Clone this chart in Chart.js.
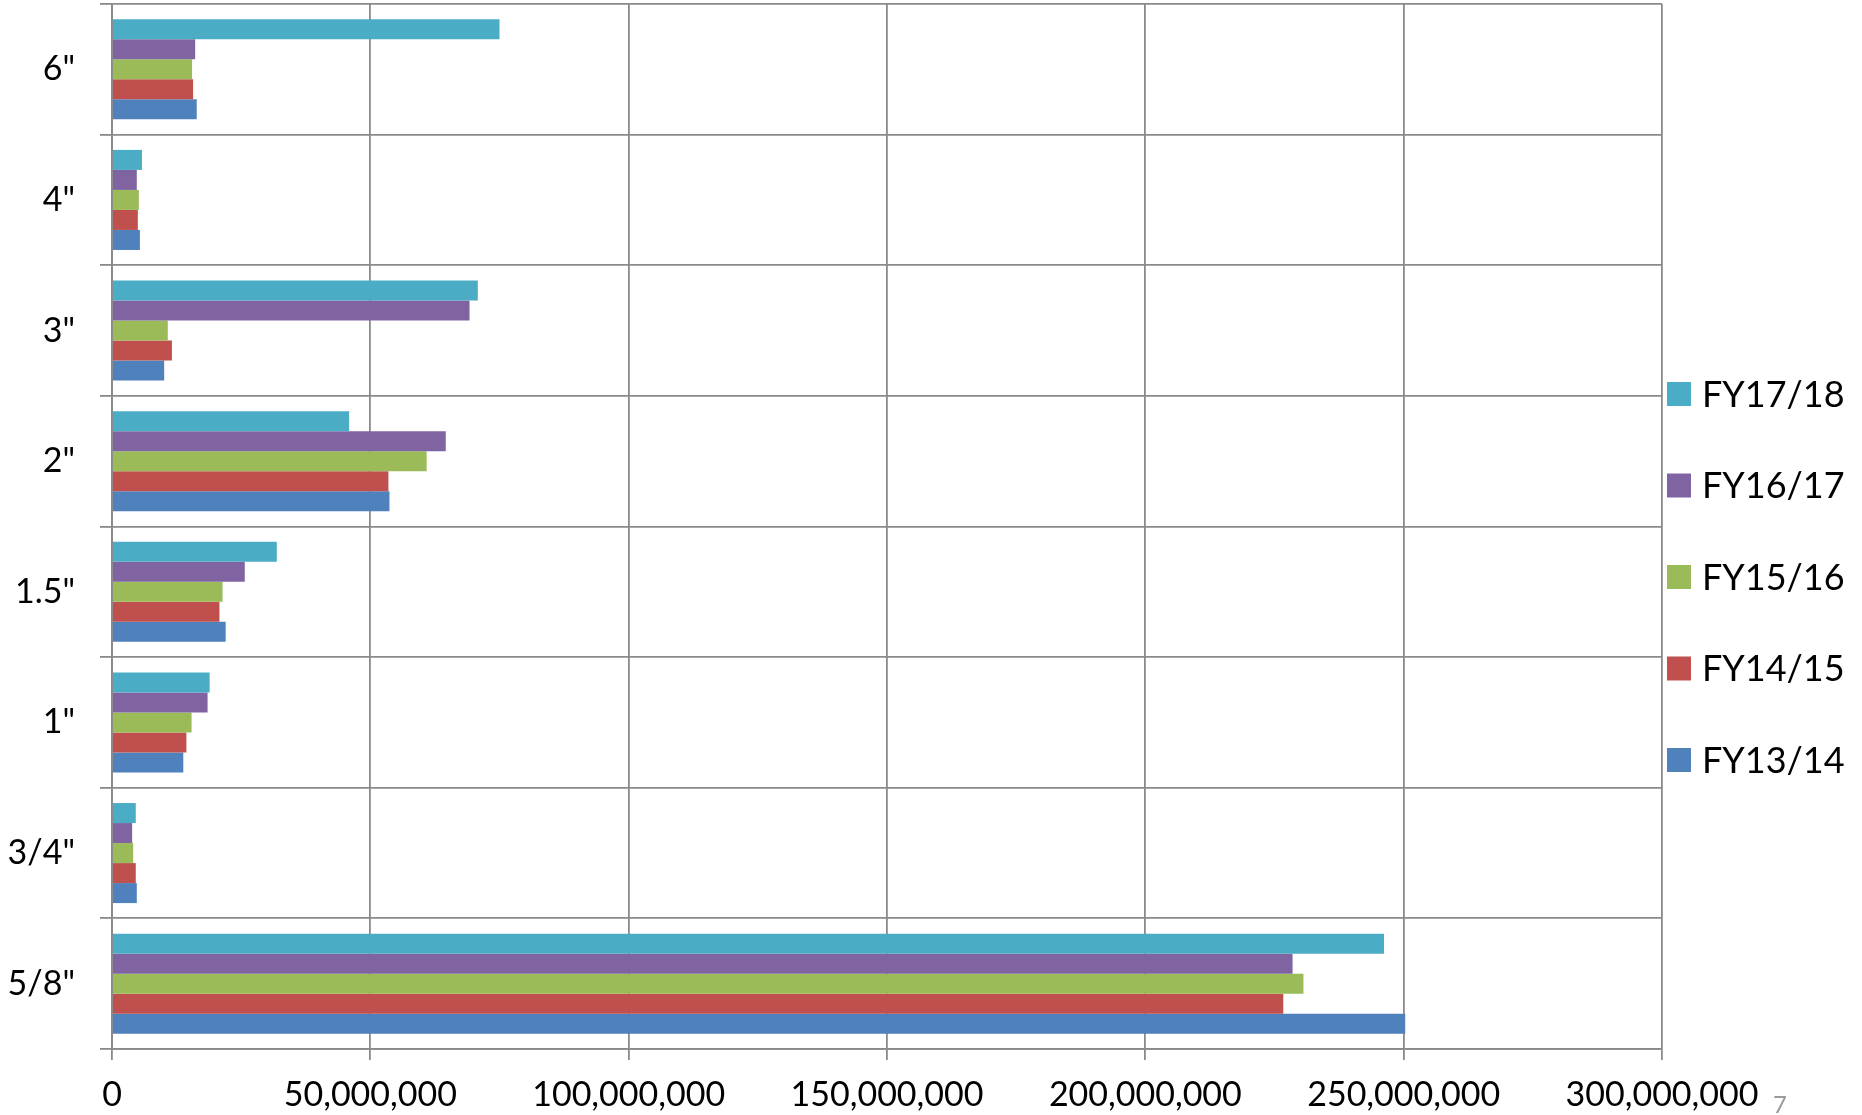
<!DOCTYPE html>
<html>
<head>
<meta charset="utf-8">
<style>
  html, body { margin: 0; padding: 0; background: #ffffff; }
  #wrap { width: 1862px; height: 1115px; }
</style>
<script src="https://cdn.jsdelivr.net/npm/chart.js@4.4.1/dist/chart.umd.min.js"></script>
</head>
<body>
<div id="wrap"><canvas id="meters" width="1862" height="1115"></canvas></div>
<script>
// meter sizes, top to bottom as in the picture
const sizes = ['6"', '4"', '3"', '2"', '1.5"', '1"', '3/4"', '5/8"'];

// values per fiscal year, same order as sizes
const fy1718 = [75000000, 5800000, 70800000, 45900000, 31900000, 18900000, 4600000, 246200000];
const fy1617 = [16100000, 4800000, 69200000, 64600000, 25700000, 18500000, 3900000, 228500000];
const fy1516 = [15500000, 5200000, 10800000, 60900000, 21400000, 15400000, 4100000, 230600000];
const fy1415 = [15700000, 5000000, 11600000, 53500000, 20800000, 14400000, 4600000, 226700000];
const fy1314 = [16400000, 5400000, 10100000, 53700000, 22000000, 13800000, 4800000, 250300000];

const xTicks = [0, 50000000, 100000000, 150000000, 200000000, 250000000, 300000000];

const gridGray = "#8a8a8a";
const axisFont = { family: "Lato", size: 34 };

// legend on the right, drawn by hand so it sits where Excel put it
const sideLegend = {
    id: "sideLegend",
    afterDraw: (chart) => {
        const ctx = chart.ctx;
        const { right } = chart.chartArea;
        ctx.save();
        ctx.font = "36px Lato";
        ctx.textBaseline = "middle";
        chart.data.datasets.forEach((ds, i) => {
            const y = 394 + i * 91.5;
            ctx.fillStyle = ds.backgroundColor;
            ctx.fillRect(right + 5, y - 12, 24, 24);
            ctx.fillStyle = "#000000";
            ctx.fillText(ds.label, right + 40, y + 1);
        });
        // page number in the corner
        ctx.fillStyle = "#9a9a9a";
        ctx.font = "24px Lato";
        ctx.textAlign = "center";
        ctx.fillText("7", 1780, 1105);
        ctx.restore();
    },
};

const chart = new Chart(document.getElementById("meters"), {
    type: "bar",
    data: {
        labels: sizes,
        datasets: [
            { label: "FY17/18", data: fy1718, backgroundColor: "#4bacc6" },
            { label: "FY16/17", data: fy1617, backgroundColor: "#8064a2" },
            { label: "FY15/16", data: fy1516, backgroundColor: "#9bbb59" },
            { label: "FY14/15", data: fy1415, backgroundColor: "#c0504d" },
            { label: "FY13/14", data: fy1314, backgroundColor: "#4f81bd" },
        ],
    },
    options: {
        indexAxis: "y",
        responsive: false,
        animation: false,
        devicePixelRatio: 1,
        layout: {
            padding: { top: 4, right: 200, left: 0, bottom: 0 },
        },
        datasets: {
            bar: {
                categoryPercentage: 0.766,
                barPercentage: 1.0,
                borderWidth: 0,
            },
        },
        scales: {
            x: {
                min: 0,
                max: 300000000,
                afterBuildTicks: (scale) => {
                    scale.ticks = xTicks.map((v) => ({ value: v }));
                },
                afterFit: (scale) => {
                    scale.height = 66;
                },
                ticks: {
                    color: "#000000",
                    font: axisFont,
                    padding: 15,
                    maxRotation: 0,
                    callback: (v) => Number(v).toLocaleString("en-US"),
                },
                grid: {
                    color: gridGray,
                    lineWidth: 1.8,
                    tickLength: 11,
                },
                border: { color: gridGray, width: 1.8 },
            },
            y: {
                afterFit: (scale) => {
                    scale.width = 112;
                    // labels sit mid-row, so no extra room above/below
                    scale.paddingTop = 0;
                    scale.paddingBottom = 0;
                },
                ticks: {
                    color: "#000000",
                    font: axisFont,
                    padding: 25,
                },
                grid: {
                    color: gridGray,
                    lineWidth: 1.8,
                    tickLength: 12,
                },
                border: { color: gridGray, width: 1.8 },
            },
        },
        plugins: {
            legend: { display: false },
            tooltip: { enabled: false },
        },
    },
    plugins: [sideLegend],
});
</script>
</body>
</html>
